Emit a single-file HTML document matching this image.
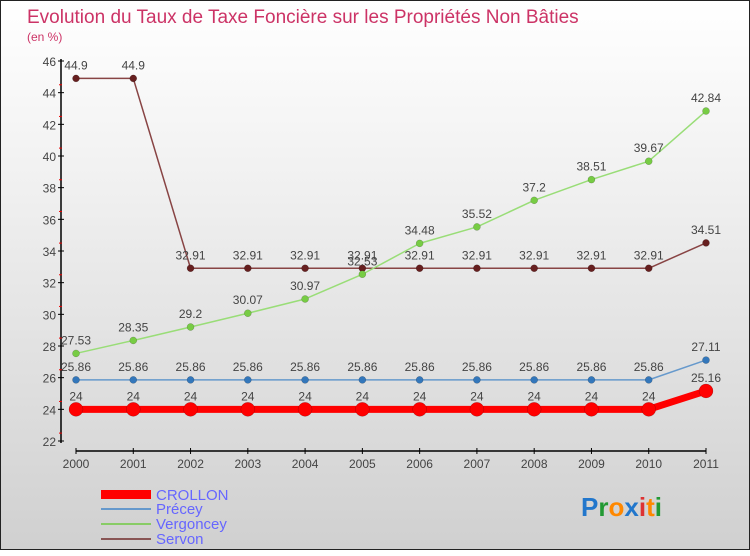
<!DOCTYPE html>
<html><head><meta charset="utf-8"><style>
body{margin:0;width:750px;height:550px;overflow:hidden;}
#c{position:absolute;left:0;top:0;width:750px;height:550px;background:linear-gradient(#ffffff,#f2f2f2 30%,#d0d0d0);box-sizing:border-box;border:1px solid #222;}
text{font-family:"Liberation Sans",sans-serif;}
</style></head><body>
<div id="c">
<svg id="s" width="750" height="550">
<text x="26" y="22" font-size="19" fill="#cc3366">Evolution du Taux de Taxe Foncière sur les Propriétés Non Bâties</text>
<text x="26" y="40" font-size="12" fill="#cc3366">(en %)</text>
<g id="axes"></g><g id="series"></g>
<g>
<rect x="100" y="489" width="50" height="9" fill="#ff0000"/>
<text x="155" y="499" font-size="15" fill="#6666ff">CROLLON</text>
<line x1="100" y1="508" x2="150" y2="508" stroke="#6699cc" stroke-width="2"/>
<text x="155" y="513" font-size="15" fill="#6666ff">Précey</text>
<line x1="100" y1="523" x2="150" y2="523" stroke="#88cc66" stroke-width="2"/>
<text x="155" y="528" font-size="15" fill="#6666ff">Vergoncey</text>
<line x1="100" y1="538" x2="150" y2="538" stroke="#885555" stroke-width="2"/>
<text x="155" y="543" font-size="15" fill="#6666ff">Servon</text>
</g>
<text x="580" y="515" font-size="26" font-weight="bold"><tspan fill="#2277cc">P</tspan><tspan fill="#229933">r</tspan><tspan fill="#ff8800">o</tspan><tspan fill="#2277cc">x</tspan><tspan fill="#dd3333">i</tspan><tspan fill="#ff8800">t</tspan><tspan fill="#229933">i</tspan></text>
</svg></div>
<script>
const years=["2000","2001","2002","2003","2004","2005","2006","2007","2008","2009","2010","2011"];
const yTicks=[22,24,26,28,30,32,34,36,38,40,42,44,46];
const crollon=[24,24,24,24,24,24,24,24,24,24,24,25.16];
const precey=[25.86,25.86,25.86,25.86,25.86,25.86,25.86,25.86,25.86,25.86,25.86,27.11];
const vergoncey=[27.53,28.35,29.2,30.07,30.97,32.53,34.48,35.52,37.2,38.51,39.67,42.84];
const servon=[44.9,44.9,32.91,32.91,32.91,32.91,32.91,32.91,32.91,32.91,32.91,34.51];
const NS="http://www.w3.org/2000/svg";
const X=i=>75+i*(630/11);
const Y=v=>440-(v-22)*(380/24);
function mk(t,a,p){const e=document.createElementNS(NS,t);for(const k in a)e.setAttribute(k,a[k]);p.appendChild(e);return e;}
const ax=document.getElementById('axes'),se=document.getElementById('series');
let l=mk('line',{x1:60,y1:58,x2:60,y2:442,stroke:'#000','stroke-width':1.5},ax);


yTicks.forEach(v=>{
 mk('line',{x1:57,x2:63,y1:Y(v),y2:Y(v),stroke:'#000'},ax);
 mk('line',{x1:58,x2:61,y1:Y(v)+15.8/2*(v<46?-1:0)-0,y2:Y(v)-7.9,stroke:v<46?'#e00':'none'},ax);
 const t=mk('text',{x:55,y:Y(v)+5,'font-size':12,fill:'#444','text-anchor':'end'},ax);
 t.textContent=v;
 
 
});
l=mk('line',{x1:75,y1:450,x2:705,y2:450,stroke:'#000','stroke-width':1.5},ax);


years.forEach((y,i)=>{
 mk('line',{x1:X(i),x2:X(i),y1:447,y2:453,stroke:'#000'},ax);
 const t=mk('text',{x:X(i),y:467,'font-size':12,fill:'#444','text-anchor':'middle'},ax);
 t.textContent=y;
 
 
});
function draw(name,data,color,w,r,dot){
 const g=mk('g',{},se);
 
 
 mk('polyline',{points:data.map((v,i)=>X(i)+','+Y(v)).join(' '),fill:'none',stroke:color,'stroke-width':w,'stroke-linejoin':'round'},g);
 data.forEach((v,i)=>{
  const c=mk('circle',{cx:X(i),cy:Y(v),r:r,fill:dot,stroke:'rgba(0,0,0,0.3)','stroke-width':0.5},g);
  
  
  const t=mk('text',{x:X(i),y:Y(v)-9,'font-size':12,fill:'#444','text-anchor':'middle'},g);
  t.textContent=String(v).replace('.','.');
  
  
 });
}
draw('servon',servon,'#884444',1.5,3.5,'#661f1f');
draw('vergoncey',vergoncey,'#99dd77',1.5,3.5,'#77cc44');
draw('precey',precey,'#6699cc',1.5,3.5,'#3377bb');
draw('crollon',crollon,'#ff0000',7,7,'#ff0000');
</script>
</body></html>
